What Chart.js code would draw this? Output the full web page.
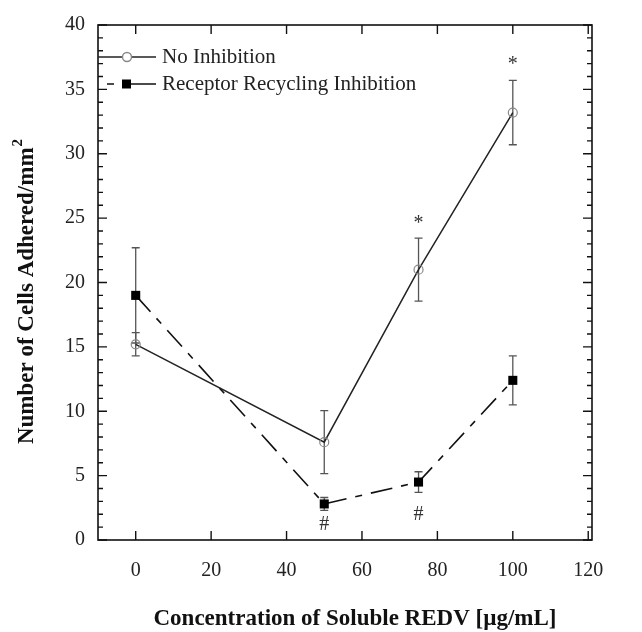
<!DOCTYPE html>
<html>
<head>
<meta charset="utf-8">
<script src="https://cdn.jsdelivr.net/npm/chart.js@4.4.0/dist/chart.umd.min.js"></script>
<style>
    html, body { margin: 0; padding: 0; background: #fff; }
    canvas { display: block; }
</style>
</head>
<body>
<canvas id="chart" width="642" height="632"></canvas>
<script>
// ===== DATA =====
const concentrations = [0, 50, 75, 100];
const noInhibition = [15.2, 7.6, 21.0, 33.2];
const noInhibitionErr = [0.9, 2.45, 2.45, 2.5];
const recyclingInhibition = [19.0, 2.8, 4.5, 12.4];
const recyclingInhibitionErr = [3.7, 0.5, 0.8, 1.9];

const xTicks = [0, 20, 40, 60, 80, 100, 120];
const yTicks = [0, 5, 10, 15, 20, 25, 30, 35, 40];

// significance marks
const starX = [75, 100];
const starY = [24.6, 36.9];
const hashX = [50, 75];
const hashY = [1.2, 2.0];

const xTitle = "Concentration of Soluble REDV [µg/mL]";
const yTitle = "Number of Cells Adhered/mm";

const SERIF = "'Liberation Serif', 'Times New Roman', serif";
const LONG_DASH = [22, 9, 7, 9];

function toPoints(xs, ys){
    return xs.map((x, i) => ({x: x, y: ys[i]}));
}

// ===== ERROR BARS =====
const errorBars = {
    id: "errorBars",
    beforeDatasetsDraw(chart){
        const ctx = chart.ctx;
        const xs = chart.scales.x, ys = chart.scales.y;
        const sets = [
            [recyclingInhibition, recyclingInhibitionErr],
            [noInhibition, noInhibitionErr]
        ];
        ctx.save();
        ctx.strokeStyle = "#555";
        ctx.lineWidth = 1.3;
        sets.forEach(([vals, errs]) => {
            concentrations.forEach((c, i) => {
                const px = xs.getPixelForValue(c);
                const top = ys.getPixelForValue(vals[i] + errs[i]);
                const bot = ys.getPixelForValue(vals[i] - errs[i]);
                ctx.beginPath();
                ctx.moveTo(px, top); ctx.lineTo(px, bot);
                ctx.moveTo(px - 4, top); ctx.lineTo(px + 4, top);
                ctx.moveTo(px - 4, bot); ctx.lineTo(px + 4, bot);
                ctx.stroke();
            });
        });
        ctx.restore();
    }
};

// ===== FRAME, INNER TICKS, MARKS, LEGEND, TITLES =====
const frame = {
    id: "frame",
    afterDraw(chart){
        const ctx = chart.ctx;
        const a = chart.chartArea;
        const xs = chart.scales.x, ys = chart.scales.y;
        ctx.save();
        ctx.strokeStyle = "#111";
        ctx.lineWidth = 1.6;
        ctx.strokeRect(a.left, a.top, a.right - a.left, a.bottom - a.top);

        ctx.lineWidth = 1.4;
        ctx.beginPath();
        // y ticks: minor every 1, major every 5
        for(let v = ys.min; v <= ys.max; v++){
            const py = ys.getPixelForValue(v);
            const len = yTicks.includes(v) ? 9 : 5;
            ctx.moveTo(a.left, py); ctx.lineTo(a.left + len, py);
            ctx.moveTo(a.right, py); ctx.lineTo(a.right - len, py);
        }
        xTicks.forEach(v => {
            const px = xs.getPixelForValue(v);
            ctx.moveTo(px, a.bottom); ctx.lineTo(px, a.bottom - 9);
            ctx.moveTo(px, a.top); ctx.lineTo(px, a.top + 9);
        });
        ctx.stroke();

        // significance marks
        ctx.fillStyle = "#333";
        ctx.textAlign = "center";
        ctx.textBaseline = "middle";
        ctx.font = "20px " + SERIF;
        starX.forEach((x, i) => ctx.fillText("*", xs.getPixelForValue(x), ys.getPixelForValue(starY[i])));
        hashX.forEach((x, i) => ctx.fillText("#", xs.getPixelForValue(x), ys.getPixelForValue(hashY[i])));

        // legend
        const lx = a.left, ly1 = a.top + 32, ly2 = a.top + 59;
        ctx.strokeStyle = "#222";
        ctx.lineWidth = 1.4;
        ctx.beginPath();
        ctx.moveTo(lx, ly1); ctx.lineTo(lx + 58, ly1);
        ctx.stroke();
        ctx.fillStyle = "#fff";
        ctx.strokeStyle = "#888";
        ctx.beginPath();
        ctx.arc(lx + 29, ly1, 4.5, 0, Math.PI * 2);
        ctx.fill(); ctx.stroke();

        ctx.strokeStyle = "#111";
        ctx.beginPath();
        ctx.moveTo(lx + 9, ly2); ctx.lineTo(lx + 16, ly2);
        ctx.moveTo(lx + 30, ly2); ctx.lineTo(lx + 58, ly2);
        ctx.stroke();
        ctx.fillStyle = "#000";
        ctx.fillRect(lx + 24, ly2 - 4.5, 9, 9);

        ctx.fillStyle = "#222";
        ctx.textAlign = "left";
        ctx.font = "21px " + SERIF;
        ctx.fillText("No Inhibition", lx + 64, ly1);
        ctx.fillText("Receptor Recycling Inhibition", lx + 64, ly2);

        // x title
        ctx.fillStyle = "#111";
        ctx.textAlign = "center";
        ctx.font = "bold 23px " + SERIF;
        ctx.fillText(xTitle, 355, 619);

        // y title with superscript
        ctx.textAlign = "left";
        const w1 = ctx.measureText(yTitle).width;
        ctx.font = "bold 15px " + SERIF;
        const w2 = ctx.measureText("2").width;
        ctx.translate(25, 292);
        ctx.rotate(-Math.PI / 2);
        ctx.font = "bold 23px " + SERIF;
        ctx.fillText(yTitle, -(w1 + w2) / 2, 2);
        ctx.font = "bold 15px " + SERIF;
        ctx.fillText("2", -(w1 + w2) / 2 + w1 + 1, -7);
        ctx.restore();
    }
};

// ===== CHART =====
new Chart(document.getElementById("chart"), {
    type: "scatter",
    data: {
        datasets: [
            {
                label: "No Inhibition",
                data: toPoints(concentrations, noInhibition),
                showLine: true,
                borderColor: "#222",
                borderWidth: 1.5,
                pointStyle: "circle",
                pointRadius: 4.5,
                pointBorderColor: "#888",
                pointBorderWidth: 1.2,
                pointBackgroundColor: "rgba(255,255,255,0)"
            },
            {
                label: "Receptor Recycling Inhibition",
                data: toPoints(concentrations, recyclingInhibition),
                showLine: true,
                borderColor: "#111",
                borderWidth: 1.6,
                borderDash: LONG_DASH,
                pointStyle: "rect",
                pointRadius: 6.4,
                pointBorderColor: "#000",
                pointBorderWidth: 0,
                pointBackgroundColor: "#000"
            }
        ]
    },
    options: {
        responsive: false,
        animation: false,
        layout: { padding: { top: 15, right: 50, left: 0, bottom: 0 } },
        plugins: {
            legend: { display: false },
            tooltip: { enabled: false }
        },
        scales: {
            x: {
                type: "linear",
                min: -10,
                max: 121,
                grid: { display: false, drawTicks: false },
                border: { display: false },
                afterBuildTicks: s => { s.ticks = xTicks.map(v => ({value: v})); },
                afterFit: s => { s.height = 92; },
                ticks: {
                    color: "#222",
                    padding: 19,
                    font: { family: SERIF, size: 20 }
                }
            },
            y: {
                min: 0,
                max: 40,
                grid: { display: false, drawTicks: false },
                border: { display: false },
                afterBuildTicks: s => { s.ticks = yTicks.map(v => ({value: v})); },
                afterFit: s => { s.width = 98; },
                ticks: {
                    color: "#222",
                    padding: 13,
                    font: { family: SERIF, size: 20 }
                }
            }
        }
    },
    plugins: [errorBars, frame]
});
</script>
</body>
</html>
